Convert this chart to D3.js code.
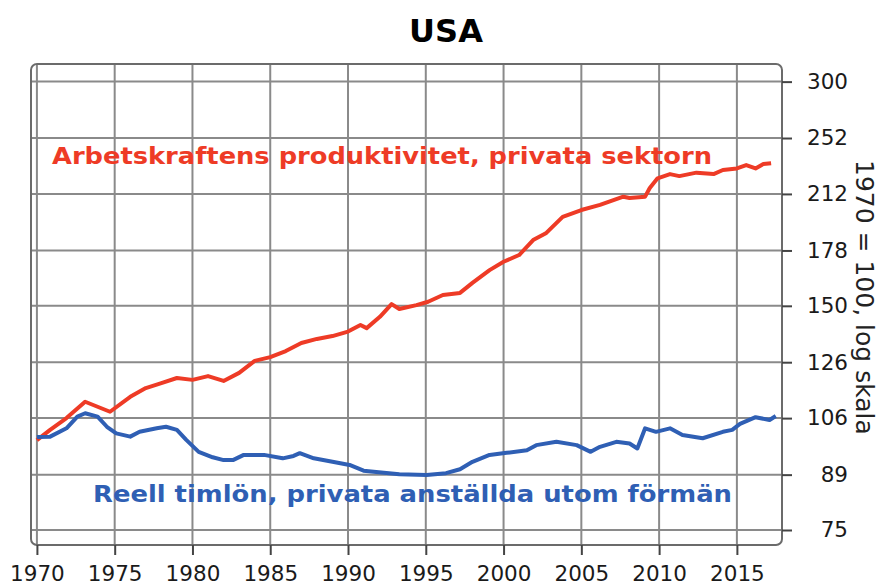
<!DOCTYPE html>
<html>
<head>
<meta charset="utf-8">
<script src="https://cdn.jsdelivr.net/npm/d3@7"></script>
<style>
  body { margin: 0; background: #fff; }
  svg { display: block; font-family: "DejaVu Sans", Verdana, sans-serif; }
</style>
</head>
<body>
<svg id="chart" width="879" height="586"></svg>
<script>
// values (1970 = 100, log scale)
const prodYears = [1970.0, 1970.85, 1971.9, 1973.1, 1974.7, 1976.0, 1977.0, 1978.0, 1979.0, 1980.0,
  1981.0, 1982.0, 1983.0, 1984.0, 1985.0, 1986.0, 1987.0, 1988.0, 1989.0, 1990.0,
  1990.8, 1991.2, 1992.05, 1992.8, 1993.3, 1994.4, 1995.15, 1996.1, 1997.2, 1998.0,
  1999.1, 2000.0, 2001.0, 2001.9, 2002.75, 2003.8, 2005.0, 2006.2, 2007.7, 2008.1,
  2009.1, 2009.4, 2009.9, 2010.7, 2011.3, 2012.4, 2013.5, 2014.1, 2015.0, 2015.6,
  2016.2, 2016.7, 2017.2];
const prodValues = [99, 102.2, 106.0, 111.5, 108.1, 113.2, 116.3, 118.1, 120.0, 119.3,
  120.7, 118.9, 121.9, 126.5, 128.0, 130.4, 133.7, 135.4, 136.6, 138.5,
  141.4, 140.0, 145.0, 150.8, 148.5, 150.3, 151.9, 155.1, 156.1, 161.0,
  167.5, 171.9, 175.5, 183.8, 187.9, 197.5, 201.7, 204.9, 210.2, 209.3,
  210.2, 215.9, 222.5, 225.4, 224.0, 226.4, 225.4, 228.3, 229.4, 231.8,
  229.4, 232.5, 233.1];

const wageYears = [1970.0, 1970.85, 1971.9, 1972.6, 1973.1, 1973.9, 1974.5, 1975.1, 1976.0, 1976.6,
  1977.7, 1978.3, 1979.0, 1979.6, 1980.4, 1981.3, 1982.0, 1982.6, 1983.3, 1984.6,
  1985.8, 1986.5, 1986.9, 1987.8, 1989.0, 1990.1, 1991.0, 1992.3, 1993.3, 1995.05,
  1996.3, 1997.2, 1998.0, 1999.1, 2000.2, 2001.5, 2002.1, 2003.4, 2004.7, 2005.6,
  2006.2, 2007.25, 2008.1, 2008.6, 2009.1, 2009.8, 2010.7, 2011.5, 2012.8, 2014.1,
  2014.7, 2015.2, 2016.2, 2017.1, 2017.5];
const wageValues = [100, 100.1, 102.7, 106.5, 107.6, 106.5, 103.2, 101.1, 100.1, 101.6,
  102.7, 103.2, 102.2, 99.1, 95.5, 93.9, 93.1, 93.1, 94.6, 94.6,
  93.6, 94.3, 95.1, 93.6, 92.6, 91.7, 90.1, 89.5, 89.1, 88.9,
  89.4, 90.5, 92.6, 94.6, 95.2, 96.0, 97.5, 98.5, 97.5, 95.5,
  97.0, 98.5, 98.0, 96.5, 102.7, 101.6, 102.7, 100.6, 99.6, 101.6,
  102.2, 104.1, 106.3, 105.4, 106.7];

const yTicks = [75, 89, 106, 126, 150, 178, 212, 252, 300];
const xTicks = [1970, 1975, 1980, 1985, 1990, 1995, 2000, 2005, 2010, 2015];

const title = "USA";
const prodLabel = "Arbetskraftens produktivitet, privata sektorn";
const wageLabel = "Reell timlön, privata anställda utom förmän";
const yTitle = "1970 = 100, log skala";

const red = "#ee3b26", blue = "#2f5fb4";

const svg = d3.select("#chart");
const frame = {left: 31, right: 782, top: 64, bottom: 545};

const x = d3.scaleLinear().domain([1969.62, 2017.9]).range([frame.left, frame.right]);
const y = d3.scaleLog().domain([71.6, 316.8]).range([frame.bottom, frame.top]);

// grid
const grid = svg.append("g").attr("stroke", "#8a8a8a").attr("stroke-width", 2);
grid.selectAll(".vx").data(xTicks).enter().append("line")
  .attr("x1", d => x(d)).attr("x2", d => x(d))
  .attr("y1", frame.top).attr("y2", frame.bottom);
grid.selectAll(".hy").data(yTicks).enter().append("line")
  .attr("x1", frame.left).attr("x2", frame.right)
  .attr("y1", d => y(d)).attr("y2", d => y(d));

// frame
svg.append("rect")
  .attr("x", frame.left).attr("y", frame.top)
  .attr("width", frame.right - frame.left).attr("height", frame.bottom - frame.top)
  .attr("rx", 6)
  .attr("fill", "none").attr("stroke", "#6b6b6b").attr("stroke-width", 2);

// axes
const xAxis = svg.append("g")
  .attr("transform", `translate(0,${frame.bottom})`)
  .call(d3.axisBottom(x).tickValues(xTicks).tickFormat(d3.format("d")).tickSize(10).tickPadding(11));
xAxis.select(".domain").remove();
xAxis.selectAll("line").attr("stroke", "#444").attr("stroke-width", 2);
xAxis.selectAll("text").attr("font-size", 21.5).attr("fill", "#1a1a1a")
  .attr("font-family", "DejaVu Sans, Verdana, sans-serif");

const yAxis = svg.append("g")
  .attr("transform", `translate(${frame.right},0)`)
  .call(d3.axisRight(y).tickValues(yTicks).tickFormat(d3.format("d")).tickSize(10).tickPadding(56));
yAxis.select(".domain").remove();
yAxis.selectAll("line").attr("stroke", "#444").attr("stroke-width", 2);
yAxis.selectAll("text").attr("font-size", 21.5).attr("fill", "#1a1a1a")
  .attr("text-anchor", "end")
  .attr("font-family", "DejaVu Sans, Verdana, sans-serif");

// lines
const line = d3.line().x(d => x(d[0])).y(d => y(d[1])).curve(d3.curveLinear);
svg.append("path")
  .datum(prodYears.map((yr, i) => [yr, prodValues[i]]))
  .attr("d", line).attr("fill", "none").attr("stroke", red)
  .attr("stroke-width", 4).attr("stroke-linejoin", "round");
svg.append("path")
  .datum(wageYears.map((yr, i) => [yr, wageValues[i]]))
  .attr("d", line).attr("fill", "none").attr("stroke", blue)
  .attr("stroke-width", 4).attr("stroke-linejoin", "round");

// texts
svg.append("text").attr("x", 446).attr("y", 42)
  .attr("text-anchor", "middle").attr("font-weight", "bold").attr("font-size", 32)
  .attr("fill", "#000").text(title);

svg.append("text").attr("x", 52).attr("y", 164)
  .attr("font-weight", "bold").attr("font-size", 23).attr("fill", red)
  .attr("textLength", 660).attr("lengthAdjust", "spacingAndGlyphs").text(prodLabel);

svg.append("text").attr("x", 93).attr("y", 502)
  .attr("font-weight", "bold").attr("font-size", 23).attr("fill", blue)
  .attr("textLength", 639).attr("lengthAdjust", "spacingAndGlyphs").text(wageLabel);

svg.append("text")
  .attr("transform", "translate(856,160) rotate(90)")
  .attr("font-size", 25).attr("fill", "#222").text(yTitle);
</script>
</body>
</html>
